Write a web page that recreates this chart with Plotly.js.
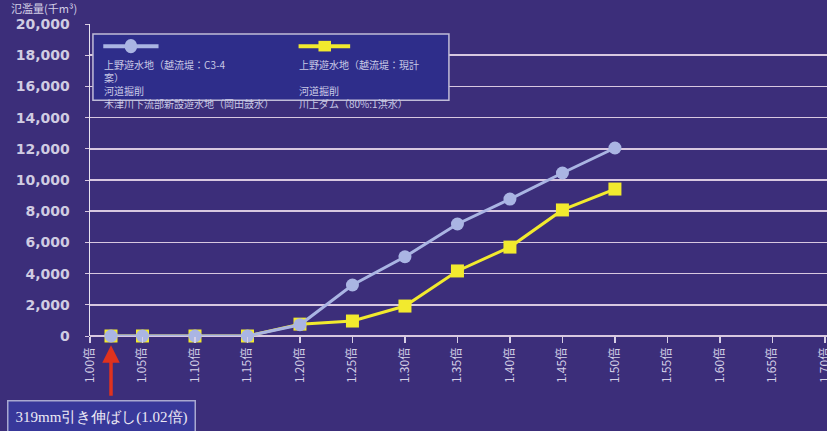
<!DOCTYPE html>
<html><head><meta charset="utf-8">
<script src="https://cdn.plot.ly/plotly-3.0.1.min.js"></script>
<style>html,body{margin:0;padding:0;background:#3c2e7a;}#c{width:827px;height:431px;}</style>
</head><body><div id="c"></div>
<script>
const multipliers = [1.02, 1.05, 1.10, 1.15, 1.20, 1.25, 1.30, 1.35, 1.40, 1.45, 1.50];
const caseC34 = [0, 0, 0, 0, 720, 3270, 5080, 7180, 8780, 10450, 12050];
const caseCurrent = [0, 0, 0, 0, 760, 960, 1920, 4170, 5700, 8080, 9420];
const tickValues = [1.00,1.05,1.10,1.15,1.20,1.25,1.30,1.35,1.40,1.45,1.50,1.55,1.60,1.65,1.70];
const tickLabels = ["1.00倍","1.05倍","1.10倍","1.15倍","1.20倍","1.25倍","1.30倍","1.35倍","1.40倍","1.45倍","1.50倍","1.55倍","1.60倍","1.65倍","1.70倍"];
const yTicks = [0,2000,4000,6000,8000,10000,12000,14000,16000,18000,20000];
const yTickLabels = ["0","2,000","4,000","6,000","8,000","10,000","12,000","14,000","16,000","18,000","20,000"];
const legend1 = ["上野遊水地（越流堤：C3-4","案）","河道掘削","木津川下流部新設遊水地（岡田鼓水）"];
const legend2 = ["上野遊水地（越流堤：現計","&nbsp;","河道掘削","川上ダム（80%:1洪水）"];

const blue = '#aab5e3', yellow = '#f2ea2e';
const traces = [
  {x: multipliers, y: caseCurrent, type:'scatter', mode:'lines+markers', cliponaxis:false,
   line:{color:yellow, width:3}, marker:{symbol:'square', size:13, color:yellow}},
  {x: multipliers, y: caseC34, type:'scatter', mode:'lines+markers', cliponaxis:false,
   line:{color:blue, width:3}, marker:{symbol:'circle', size:13, color:blue}}
];
const txtFont = {family:'Noto Sans CJK JP', size:10, color:'#c9c9e6'};
const ann = [];
ann.push({xref:'paper', yref:'paper', x:0.016, y:0.9, xanchor:'left', yanchor:'top', align:'left', text:legend1.join('<br>'), showarrow:false, font:txtFont});
ann.push({xref:'paper', yref:'paper', x:0.281, y:0.9, xanchor:'left', yanchor:'top', align:'left', text:legend2.join('<br>'), showarrow:false, font:txtFont});
ann.push({xref:'paper', yref:'paper', x:0, y:1.05, xanchor:'left', yanchor:'middle', text:'氾濫量(千m³)', showarrow:false, font:{family:'Noto Sans CJK JP', size:11, color:'#d4d0e6'}, xshift:-81});
ann.push({xref:'x', yref:'paper', x:1.02, y:-0.03, ax:0, ay:52, showarrow:true, arrowhead:2, arrowsize:1, arrowwidth:3.5, arrowcolor:'#e0321e', text:''});
ann.push({xref:'paper', yref:'paper', x:-0.112, y:-0.205, xanchor:'left', yanchor:'top', text:'319mm引き伸ばし(1.02倍)', showarrow:false,
  font:{family:'Liberation Serif', size:15, color:'#ece8f4'}, bgcolor:'#38389a', bordercolor:'#a8a8d0', borderwidth:1.5, borderpad:7});

const shapes = [
  {type:'rect', xref:'paper', yref:'paper', x0:0.004, x1:0.487, y0:0.756, y1:0.968, fillcolor:'#2e2d8a', line:{color:'#c0bcd8', width:1.5}, layer:'above'},
  {type:'line', xref:'paper', yref:'paper', x0:0.018, x1:0.093, y0:0.929, y1:0.929, line:{color:blue, width:4}, layer:'above'},
  {type:'circle', xref:'paper', yref:'paper', x0:0.047, x1:0.064, y0:0.906, y1:0.952, fillcolor:blue, line:{color:blue, width:0}, layer:'above'},
  {type:'line', xref:'paper', yref:'paper', x0:0.283, x1:0.353, y0:0.929, y1:0.929, line:{color:yellow, width:4}, layer:'above'},
  {type:'rect', xref:'paper', yref:'paper', x0:0.31, x1:0.327, y0:0.912, y1:0.946, fillcolor:yellow, line:{color:yellow, width:0}, layer:'above'}
];

const layout = {
  width:827, height:431,
  margin:{l:90, r:0, t:24, b:95},
  paper_bgcolor:'#3c2e7a', plot_bgcolor:'rgba(0,0,0,0)',
  showlegend:false,
  xaxis:{range:[1.0,1.702], tickmode:'array', tickvals:tickValues, ticktext:tickLabels, tickangle:-90,
    showgrid:false, zeroline:false, showline:false, ticks:'outside', ticklen:6, tickcolor:'#d8d0e6', tickwidth:1.5,
    ticklabeloverflow:'allow',
    tickfont:{family:'Noto Sans CJK JP', size:12, color:'#d4d0e6'}},
  yaxis:{range:[0,20000], tickmode:'array', tickvals:yTicks, ticktext:yTickLabels,
    showgrid:true, gridcolor:'#d8c8e0', gridwidth:1.5, zeroline:true, zerolinecolor:'#d8c8e0', zerolinewidth:1.5,
    showline:true, linecolor:'#e8e4f0', linewidth:1.5, ticks:'outside', ticklen:4, tickcolor:'#d8c8e0', ticklabelstandoff:12,
    tickfont:{family:'DejaVu Sans', size:14, color:'#d0cce2', weight:'bold'}},
  annotations:ann, shapes:shapes
};
Plotly.newPlot('c', traces, layout, {displayModeBar:false, staticPlot:true});
</script></body></html>
